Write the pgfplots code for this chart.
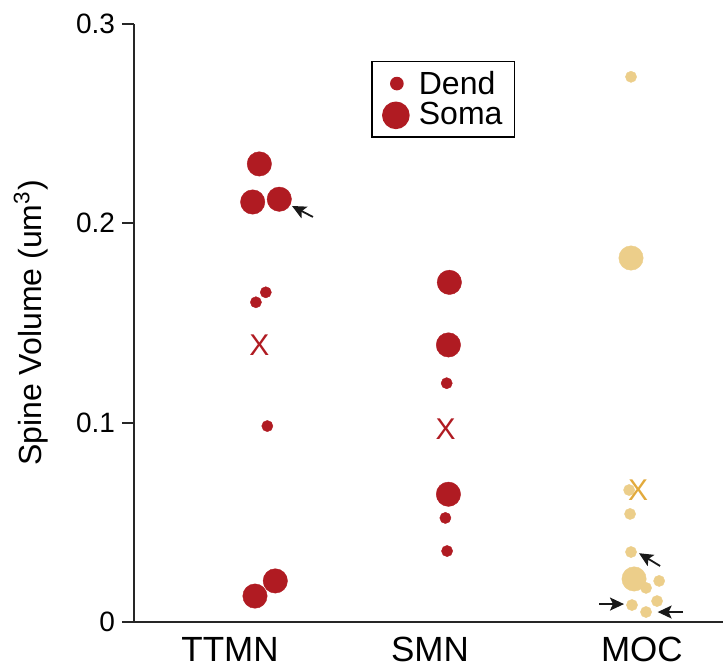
\documentclass[border=0pt]{standalone}
\usepackage{fontspec}
\setmainfont{Liberation Sans}
\usepackage{pgfplots}
\pgfplotsset{compat=1.18}
\usetikzlibrary{arrows.meta}
\definecolor{ttred}{RGB}{176,27,34}
\definecolor{moctan}{RGB}{236,206,138}
\definecolor{mocgold}{RGB}{226,170,60}

\pgfplotsset{
    dend/.style={forget plot, only marks, mark=*, mark size=2.8pt, color=#1, mark options={line width=0.2pt}},
    soma/.style={forget plot, only marks, mark=*, mark size=6.1pt, color=#1, mark options={line width=0.2pt}},
    meanx/.style={forget plot, only marks, mark=text, text mark={X},
        text mark style={font=\fontsize{15}{15}\selectfont, text=#1, inner sep=0pt}},
}

\begin{document}
\begin{tikzpicture}
\begin{axis}[
    scale only axis, width=294.5pt, height=299pt,
    xmin=-0.6526, xmax=2.447, ymin=0, ymax=0.3,
    axis lines*=left,
    axis line style={line width=0.9pt, black!85},
    ytick={0,0.1,0.2,0.3}, yticklabels={0,0.1,0.2,0.3},
    xtick={-0.147,0.905,2.02}, xticklabels={TTMN,SMN,MOC},
    xtick style={draw=none}, xtick align=inside,
    ytick style={line width=0.9pt, black!85}, ytick align=outside,
    major tick length=6pt,
    /pgf/number format/assume math mode=true,
    yticklabel style={font=\fontsize{14}{16}\selectfont},
    xticklabel style={font=\fontsize{17.5}{20}\selectfont, anchor=base, yshift=-19.9pt},
    ylabel={Spine Volume (um\textsuperscript{3})},
    ylabel style={font=\fontsize{16}{18}\selectfont, at={(axis description cs:-0.1562,0.5)}, anchor=base},
    clip=false,
    text mark as node=true,
    legend style={at={(axis cs:0.595,0.2815)}, anchor=north west, draw=black, line width=0.8pt,
        font=\fontsize{16}{18}\selectfont, inner xsep=4pt, inner ysep=3pt, row sep=-2pt,
        cells={anchor=west}},
]
    % legend
    \addlegendimage{legend image code/.code={\path[draw=none, fill=none] (0pt,0pt) -- (17.5pt,0pt); \fill[ttred] (8.5pt,0.6pt) circle (3pt);}}
    \addlegendentry{Dend}
    \addlegendimage{legend image code/.code={\path[draw=none, fill=none] (0pt,0pt) -- (17.5pt,0pt); \fill[ttred] (8pt,-0.4pt) circle (6.5pt);}}
    \addlegendentry{Soma}

    % TTMN
    \addplot[soma=ttred] coordinates {
        (0.007,0.2298) (-0.028,0.2107) (0.112,0.2121) (0.091,0.0206) (-0.016,0.0130)
    };
    \addplot[dend=ttred] coordinates {
        (0.041,0.1654) (-0.011,0.1604) (0.049,0.0983)
    };
    \addplot[meanx=ttred] coordinates {(0.007,0.1390)};

    % SMN
    \addplot[soma=ttred] coordinates {
        (1.007,0.1704) (1.002,0.1390) (1.002,0.0641)
    };
    \addplot[dend=ttred] coordinates {
        (0.993,0.1198) (0.986,0.0522) (0.995,0.0356)
    };
    \addplot[meanx=ttred] coordinates {(0.988,0.0967)};

    % MOC
    \addplot[soma=moctan] coordinates {
        (1.963,0.1826) (1.979,0.0216)
    };
    \addplot[dend=moctan] coordinates {
        (1.963,0.2735) (1.953,0.0662) (1.958,0.0542) (1.963,0.0351)
        (2.042,0.0171) (2.111,0.0206) (2.100,0.0105) (1.968,0.0085) (2.042,0.0050)
    };
    \addplot[meanx=mocgold] coordinates {(2.000,0.0662)};

    % arrows
    \tikzset{pt/.style={-{Stealth[length=7pt, width=6.5pt, inset=1.5pt]}, line width=0.9pt, black!90}}
    \draw[pt] (axis cs:0.289,0.2032) -- (axis cs:0.179,0.2087);
    \draw[pt] (axis cs:2.116,0.0281) -- (axis cs:2.005,0.0345);
    \draw[pt] (axis cs:1.795,0.0090) -- (axis cs:1.926,0.0090);
    \draw[pt] (axis cs:2.237,0.0050) -- (axis cs:2.103,0.0050);
\end{axis}
\pgfresetboundingbox
\path (-67pt,-23pt) rectangle (294.5pt,311pt);
\end{tikzpicture}
\end{document}
